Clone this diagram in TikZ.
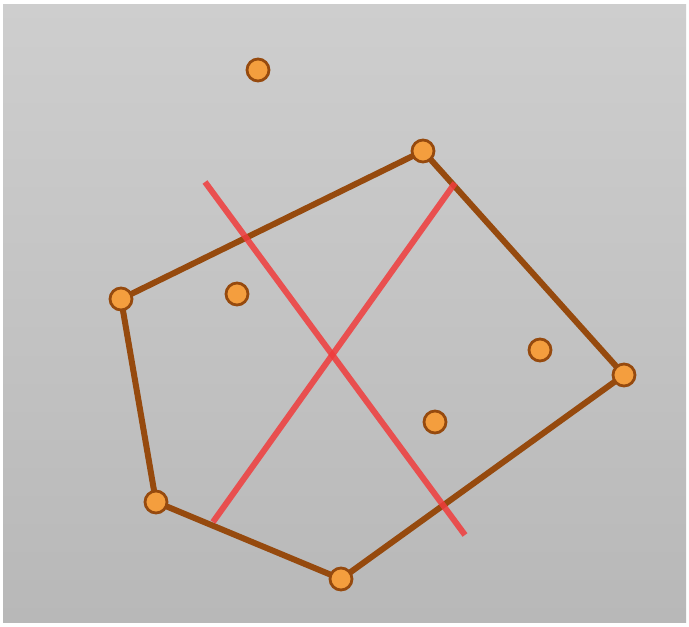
\documentclass[tikz,border=0pt]{standalone}
\definecolor{bgA}{RGB}{206,206,206}
\definecolor{bgB}{RGB}{184,184,184}
\definecolor{edgebrown}{RGB}{150,74,14}
\definecolor{dotfill}{RGB}{244,158,62}
\definecolor{redline}{RGB}{240,60,60}
\tikzset{
  pt/.style={circle,draw=edgebrown,fill=dotfill,line width=2.8pt,minimum size=22pt,inner sep=0pt},
  edge/.style={draw=edgebrown,line width=6pt,line cap=round,line join=round},
  cut/.style={draw=redline,line width=6pt,opacity=0.85}
}
\begin{document}
\begin{tikzpicture}[x=1pt,y=-1pt]
\useasboundingbox (0,0) rectangle (689,627);
\fill[white] (0,0) rectangle (689,627);
\shade[top color=bgA,bottom color=bgB] (3,4) rectangle (686,622);
% red cutting lines
\coordinate (r1a) at (205,182);
\coordinate (r1b) at (465,535);
\coordinate (r2a) at (455,183);
\coordinate (r2b) at (213,522);
% polygon vertices (positions)
\coordinate (v1) at (423,151);
\coordinate (v2) at (624,375);
\coordinate (v3) at (341,579);
\coordinate (v4) at (156,502);
\coordinate (v5) at (121,299);
\draw[edge] (v1) -- (v2) -- (v3) -- (v4) -- (v5) -- cycle;
\draw[cut] (r1a) -- (r1b);
\draw[cut] (r2a) -- (r2b);
\node[pt] (n1) at (v1) {};
\node[pt] (n2) at (v2) {};
\node[pt] (n3) at (v3) {};
\node[pt] (n4) at (v4) {};
\node[pt] (n5) at (v5) {};
% other points
\node[pt] (p1) at (258,70) {};
\node[pt] (p2) at (237,294) {};
\node[pt] (p3) at (540,350) {};
\node[pt] (p4) at (435,422) {};
\end{tikzpicture}
\end{document}
